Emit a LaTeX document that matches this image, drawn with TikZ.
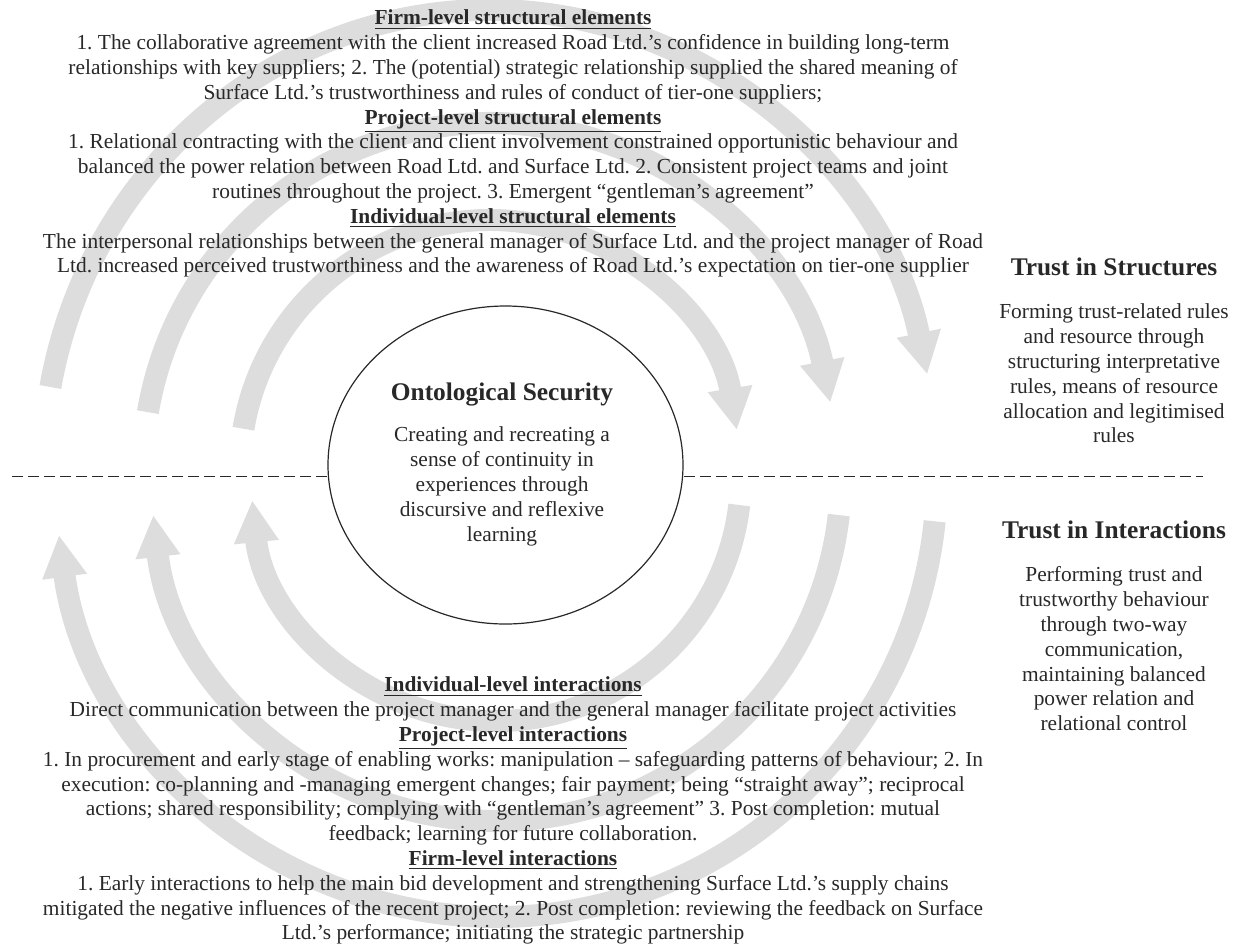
\documentclass[tikz,border=0pt]{standalone}
\usepackage{fontspec}
\setmainfont{Liberation Serif}
\usetikzlibrary{arrows.meta,shapes.geometric}
\definecolor{arcgrey}{RGB}{221,221,221}
\definecolor{inkgrey}{RGB}{40,40,40}
\frenchspacing
\begin{document}
\begin{tikzpicture}[x=0.5pt,y=-0.5pt,
  band/.style={draw=arcgrey, line width=11pt, -{Triangle[length=21pt,width=21pt]}},
  body/.style={font=\fontsize{10.7pt}{12.4pt}\selectfont\frenchspacing, text=inkgrey, align=center, inner sep=0pt},
  heading/.style={font=\fontsize{12.7pt}{15pt}\selectfont\bfseries, text=inkgrey, inner sep=0pt},
  divider/.style={draw=inkgrey, line width=0.5pt, dash pattern=on 5.5pt off 2.5pt},
  security/.style={draw=inkgrey, line width=0.6pt, ellipse, inner sep=0pt, minimum width=177.5pt, minimum height=159pt}
]
\useasboundingbox (0,0) rectangle (1238,944);

% upper arcs (structures), turning clockwise
\draw[band] (490,470) ++(189.5:250) arc[start angle=189.5, end angle=350.8, radius=250];
\draw[band] (490,470) ++(189.6:347) arc[start angle=189.6, end angle=348.8, radius=347];
\draw[band] (490,470) ++(190.4:447 and 460) arc[start angle=190.4, end angle=348, x radius=447, y radius=460];

% lower arcs (interactions)
\draw[band] (496,476) ++(6.8:245) arc[start angle=6.8, end angle=174.3, radius=245];
\draw[band] (496,476) ++(6.5:345) arc[start angle=6.5, end angle=173.5, radius=345];
\draw[band] (496,476) ++(5.9:441) arc[start angle=5.9, end angle=172.3, radius=441];

% central ellipse
\node[security] (os) at (505.5,465) {};
\node[heading, anchor=base] (ost) at (502,400) {Ontological Security};
\node[body, anchor=north] (osd) at (502,424.1) {\strut Creating and recreating a\\ sense of continuity in\\ experiences through\\ discursive and reflexive\\ learning};

% divider
\coordinate (dL) at (8,476);
\coordinate (dR) at (1203,476);
\draw[divider] (dL -| os.west) -- (dL);
\draw[divider] (os.east |- dR) -- (dR);

% top text block
\node[body, anchor=north] (structs) at (513,7.1) {\strut\underline{\textbf{Firm-level structural elements}}\\
1. The collaborative agreement with the client increased Road Ltd.’s confidence in building long-term\\
relationships with key suppliers; 2. The (potential) strategic relationship supplied the shared meaning of\\
Surface Ltd.’s trustworthiness and rules of conduct of tier-one suppliers;\\
\underline{\textbf{Project-level structural elements}}\\
1. Relational contracting with the client and client involvement constrained opportunistic behaviour and\\
balanced the power relation between Road Ltd. and Surface Ltd. 2. Consistent project teams and joint\\
routines throughout the project. 3. Emergent “gentleman’s agreement”\\
\underline{\textbf{Individual-level structural elements}}\\
The interpersonal relationships between the general manager of Surface Ltd. and the project manager of Road\\
Ltd. increased perceived trustworthiness and the awareness of Road Ltd.’s expectation on tier-one supplier};

% bottom text block
\node[body, anchor=north] (inters) at (513,674.1) {\strut\underline{\textbf{Individual-level interactions}}\\
Direct communication between the project manager and the general manager facilitate project activities\\
\underline{\textbf{Project-level interactions}}\\
1. In procurement and early stage of enabling works: manipulation – safeguarding patterns of behaviour; 2. In\\
execution: co-planning and -managing emergent changes; fair payment; being “straight away”; reciprocal\\
actions; shared responsibility; complying with “gentleman’s agreement” 3. Post completion: mutual\\
feedback; learning for future collaboration.\\
\underline{\textbf{Firm-level interactions}}\\
1. Early interactions to help the main bid development and strengthening Surface Ltd.’s supply chains\\
mitigated the negative influences of the recent project; 2. Post completion: reviewing the feedback on Surface\\
Ltd.’s performance; initiating the strategic partnership};

% right column
\node[heading, anchor=base] (tis) at (1114,275) {Trust in Structures};
\node[body, anchor=north] (tisd) at (1114,301.1) {\strut Forming trust-related rules\\ and resource through\\ structuring interpretative\\ rules, means of resource\\ allocation and legitimised\\ rules};
\node[heading, anchor=base] (tii) at (1114,538) {Trust in Interactions};
\node[body, anchor=north] (tiid) at (1114,564.1) {\strut Performing trust and\\ trustworthy behaviour\\ through two-way\\ communication,\\ maintaining balanced\\ power relation and\\ relational control};
\end{tikzpicture}
\end{document}
